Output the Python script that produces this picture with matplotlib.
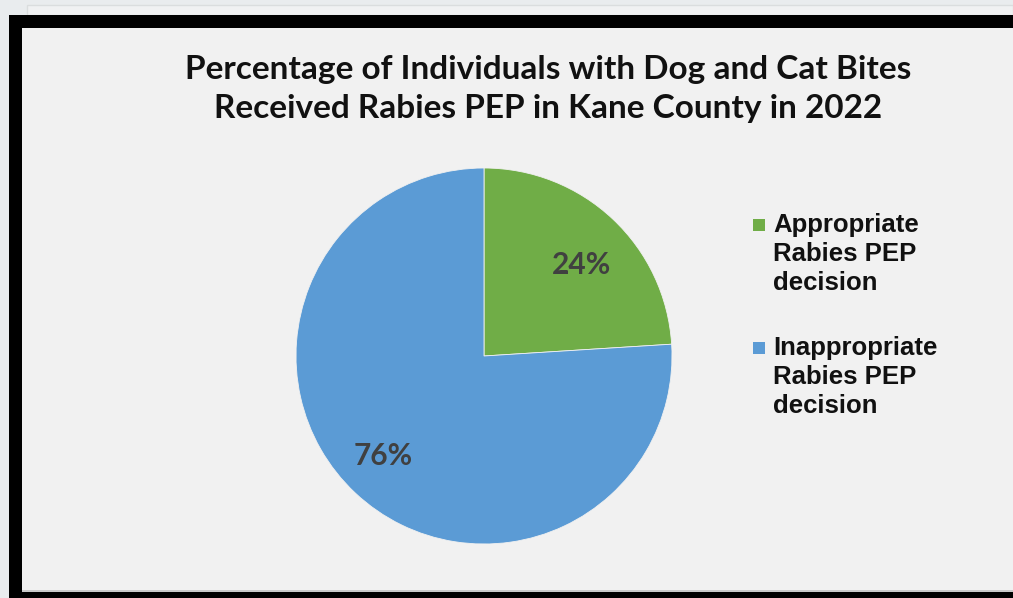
import matplotlib
matplotlib.use("Agg")
import matplotlib.pyplot as plt
from matplotlib.patches import Rectangle

# chart data
categories = ["Appropriate\nRabies PEP\ndecision", "Inappropriate\nRabies PEP\ndecision"]
percentages = [24, 76]
colors = ["#70AD47", "#5B9BD5"]
title = "Percentage of Individuals with Dog and Cat Bites\nReceived Rabies PEP in Kane County in 2022"

W, H = 1013, 598
fig = plt.figure(figsize=(W / 100, H / 100), dpi=100)
fig.patch.set_facecolor("#E9ECEE")


def px_rect(x0, y0, x1, y1, z=-10, **kw):
    # rectangle in pixel coords (top-left origin)
    return Rectangle((x0 / W, 1 - y1 / H), (x1 - x0) / W, (y1 - y0) / H,
                     transform=fig.transFigure, zorder=z, **kw)


# frame of the screenshot
fig.patches.append(px_rect(27, 5, W, 15, facecolor="#F0F1F2", edgecolor="#DADDDE", lw=1))
fig.patches.append(px_rect(9, 15, W + 5, H + 5, facecolor="black", edgecolor="none"))
fig.patches.append(px_rect(22, 28, W + 5, 592, facecolor="#C9C9C9", edgecolor="none"))
fig.patches.append(px_rect(22, 28, W + 5, 590, facecolor="#F1F1F1", edgecolor="none"))

fig.text(548 / W, 1 - 89 / H, title, ha="center", va="center",
         fontsize=24, fontweight="bold", family="Lato", color="#111111",
         linespacing=1.38)

# pie
cx, cy, r = 484, 356, 188
ax = fig.add_axes([(cx - r) / W, 1 - (cy + r) / H, 2 * r / W, 2 * r / H])
ax.set_zorder(1)
wedges, texts, autotexts = ax.pie(
    percentages, colors=colors, startangle=90, counterclock=False,
    autopct="%d%%", pctdistance=0.73,
    wedgeprops=dict(edgecolor="#F1F1F1", linewidth=0.6),
    textprops=dict(fontsize=21.5, fontweight="bold", family="Lato", color="#404040"),
)
# small nudges so the labels sit where the source chart put them
nudges = [(0.02, -0.05), (-0.035, 0.0)]
for t, (dx, dy) in zip(autotexts, nudges):
    px, py = t.get_position()
    t.set_position((px + dx, py + dy))
ax.set_xlim(-1, 1)
ax.set_ylim(-1, 1)
ax.set_aspect("equal")
ax.axis("off")

# legend (markers sit at first text line)
leg_x, leg_y0, leg_step = 773, 226, 123
for i, (lab, col) in enumerate(zip(categories, colors)):
    y = leg_y0 + i * leg_step
    fig.patches.append(px_rect(753, y - 7, 765, y + 5, z=2, facecolor=col, edgecolor="none"))
    fig.text(leg_x / W, 1 - (y - 13) / H, lab, ha="left", va="top",
             fontsize=18.5, fontweight="bold", family="Liberation Sans",
             color="#111111", linespacing=1.27)

fig.savefig("out.png", dpi=100, facecolor=fig.get_facecolor())
